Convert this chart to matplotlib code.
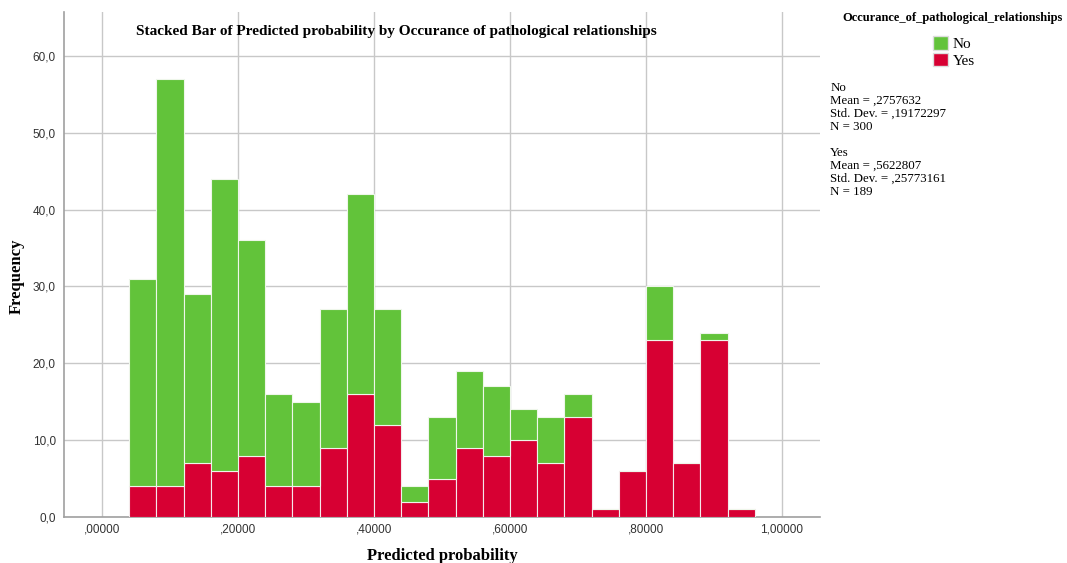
import numpy as np
import matplotlib.pyplot as plt
from matplotlib.patches import Patch

# Histograma empilhado (estilo SPSS)
bin_left = [0.04, 0.08, 0.12, 0.16, 0.20, 0.24, 0.28, 0.32, 0.36, 0.40, 0.44, 0.48,
            0.52, 0.56, 0.60, 0.64, 0.68, 0.72, 0.76, 0.80, 0.84, 0.88, 0.92]
yes_counts = [4, 4, 7, 6, 8, 4, 4, 9, 16, 12, 2, 5, 9, 8, 10, 7, 13, 1, 6, 23, 7, 23, 1]
no_counts = [27, 53, 22, 38, 28, 12, 11, 18, 26, 15, 2, 8, 10, 9, 4, 6, 3, 0, 0, 7, 0, 1, 0]
bin_width = 0.04

x_ticks = [0.0, 0.2, 0.4, 0.6, 0.8, 1.0]
x_tick_labels = [',00000', ',20000', ',40000', ',60000', ',80000', '1,00000']
y_ticks = [0, 10, 20, 30, 40, 50, 60]
y_tick_labels = ['0,0', '10,0', '20,0', '30,0', '40,0', '50,0', '60,0']

cor_no = '#62C33A'
cor_yes = '#D70033'
serif = 'Liberation Serif'
sans = 'Liberation Sans'

fig = plt.figure(figsize=(10.67, 5.63), dpi=100)
ax = fig.add_axes([0.060, 0.0817, 0.7085, 0.897])

ax.bar(bin_left, yes_counts, width=bin_width, align='edge', color=cor_yes,
       edgecolor='#F4E8EA', linewidth=0.8, zorder=3)
ax.bar(bin_left, no_counts, width=bin_width, bottom=yes_counts, align='edge',
       color=cor_no, edgecolor='#EEF6EA', linewidth=0.8, zorder=3)

ax.set_xlim(-0.0559, 1.0559)
ax.set_ylim(0, 65.7)
ax.set_xticks(x_ticks)
ax.set_xticklabels(x_tick_labels, fontfamily=sans, fontsize=8.5, color='#333333')
ax.set_yticks(y_ticks)
ax.set_yticklabels(y_tick_labels, fontfamily=sans, fontsize=8.5, color='#333333')
ax.tick_params(axis='x', length=0, pad=5)
ax.tick_params(axis='y', length=0, pad=6)

ax.grid(True, color='#C8C8C8', linewidth=1, zorder=0)
ax.set_axisbelow(True)
for s in ['top', 'right']:
    ax.spines[s].set_visible(False)
for s in ['left', 'bottom']:
    ax.spines[s].set_color('#A0A0A0')
    ax.spines[s].set_linewidth(1.2)

# Rótulos dos eixos em posições fixas (como no original)
fig.text(0.415, 0.013, 'Predicted probability', ha='center', va='center',
         fontfamily=serif, fontweight='bold', fontsize=12)
fig.text(0.016, 0.51, 'Frequency', ha='center', va='center', rotation=90,
         fontfamily=serif, fontweight='bold', fontsize=12)
ax.text(0.44, 0.975, 'Stacked Bar of Predicted probability by Occurance of pathological relationships',
        transform=ax.transAxes, ha='center', va='top', fontfamily=serif, fontweight='bold', fontsize=11)

# Legenda
handles = [Patch(facecolor=cor_no, edgecolor='#DDDDDD'), Patch(facecolor=cor_yes, edgecolor='#DDDDDD')]
fig.text(0.893, 0.968, 'Occurance_of_pathological_relationships', ha='center', va='center',
         fontfamily=serif, fontweight='bold', fontsize=9)
fig.legend(handles, ['No', 'Yes'], loc='upper left', bbox_to_anchor=(0.864, 0.955), frameon=False,
           prop={'family': serif, 'size': 11}, handlelength=1.0, handleheight=1.0,
           handletextpad=0.3, labelspacing=0.1, borderpad=0.2)

stats = ('No\nMean = ,2757632\nStd. Dev. = ,19172297\nN = 300\n\n'
         'Yes\nMean = ,5622807\nStd. Dev. = ,25773161\nN = 189')
fig.text(0.778, 0.855, stats, ha='left', va='top', fontfamily=serif, fontsize=9.3, linespacing=1.12)

plt.savefig('out.png', dpi=100)
